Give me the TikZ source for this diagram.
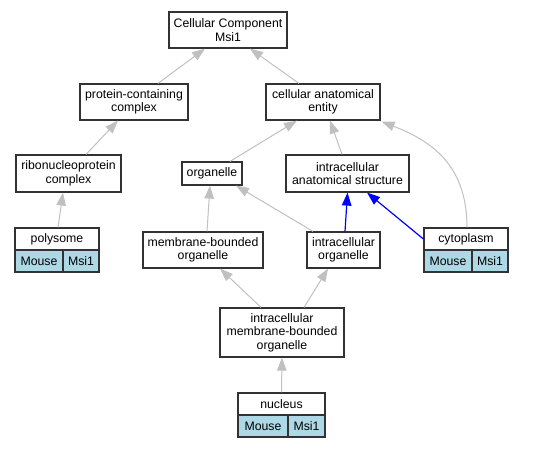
\documentclass[tikz,border=0pt]{standalone}
\usepackage{fontspec}
\setmainfont{Liberation Sans}
\usetikzlibrary{arrows.meta}
\definecolor{edgegray}{RGB}{192,192,192}
\definecolor{cellblue}{HTML}{ADD8E6}
\definecolor{boxline}{RGB}{50,50,50}
\begin{document}
\begin{tikzpicture}[x=1pt,y=-1pt,
 box/.style={draw=boxline, line width=1.2pt, fill=white, align=center, inner sep=0pt, font=\fontsize{12.3}{13.6}\selectfont},
 cell/.style={box, fill=cellblue},
 gedge/.style={draw=edgegray, line width=1pt, -{Triangle[length=13pt,width=9.5pt,fill=edgegray]}},
 bedge/.style={draw=blue, line width=1.2pt, -{Triangle[length=13pt,width=9.5pt,fill=blue]}}]
\useasboundingbox (0,0) rectangle (540,448);
% nodes
\node[box, minimum width=118, minimum height=36] (cc) at (228,30) {Cellular Component\\Msi1};
\node[box, minimum width=108, minimum height=36] (pcc) at (134,102) {protein-containing\\complex};
\node[box, minimum width=114, minimum height=36] (cae) at (323,102) {cellular anatomical\\entity};
\node[box, minimum width=105, minimum height=37] (rnp) at (68.5,173.5) {ribonucleoprotein\\complex};
\node[box, minimum width=60, minimum height=23] (org) at (212,173.5) {organelle};
\node[box, minimum width=123, minimum height=37] (ias) at (347.5,173.5) {intracellular\\anatomical structure};
\node[box, minimum width=84, minimum height=22] (poly) at (57,239) {polysome};
\node[cell, minimum width=48, minimum height=22] (polym) at (39,261) {Mouse};
\node[cell, minimum width=36, minimum height=22] (polyg) at (81,261) {Msi1};
\node[box, minimum width=120, minimum height=36] (mbo) at (203,250) {membrane-bounded\\organelle};
\node[box, minimum width=73, minimum height=36] (io) at (343.5,250) {intracellular\\organelle};
\node[box, minimum width=84, minimum height=22] (cyto) at (466,239) {cytoplasm};
\node[cell, minimum width=48, minimum height=22] (cytom) at (448,261) {Mouse};
\node[cell, minimum width=36, minimum height=22] (cytog) at (490,261) {Msi1};
\node[box, minimum width=124, minimum height=49] (imbo) at (282,332.5) {intracellular\\membrane-bounded\\organelle};
\node[box, minimum width=87, minimum height=22] (nuc) at (281.5,404) {nucleus};
\node[cell, minimum width=50, minimum height=22] (nucm) at (263,426) {Mouse};
\node[cell, minimum width=37, minimum height=22] (nucg) at (306.5,426) {Msi1};
% edges
\draw[gedge] ([xshift=24]pcc.north) -- ([xshift=-23]cc.south);
\draw[gedge] ([xshift=-24]cae.north) -- ([xshift=22]cc.south);
\draw[gedge] ([xshift=17.5]rnp.north) -- ([xshift=-16]pcc.south);
\draw[gedge] ([xshift=18]org.north) -- ([xshift=-26]cae.south);
\draw[gedge] ([xshift=-5.5]ias.north) -- ([xshift=7]cae.south);
\draw[gedge] ([xshift=1]cyto.north) .. controls ([xshift=1,yshift=63]cyto.north) and ([xshift=50,yshift=-20]cae.south east) .. ([xshift=1,yshift=-1]cae.south east);
\draw[gedge] ([xshift=1]poly.north) -- ([xshift=-5.5]rnp.south);
\draw[gedge] ([xshift=4]mbo.north) -- ([xshift=-2]org.south);
\draw[gedge] ([xshift=-30.5]io.north) -- ([xshift=24]org.south);
\draw[bedge] ([xshift=1.5]io.north) -- (ias.south);
\draw[bedge] (cyto.west) -- ([xshift=19.5]ias.south);
\draw[gedge] ([xshift=-21]imbo.north) -- ([xshift=17]mbo.south);
\draw[gedge] ([xshift=22]imbo.north) -- ([xshift=-15.5]io.south);
\draw[gedge] (nuc.north) -- (imbo.south);
\end{tikzpicture}
\end{document}
